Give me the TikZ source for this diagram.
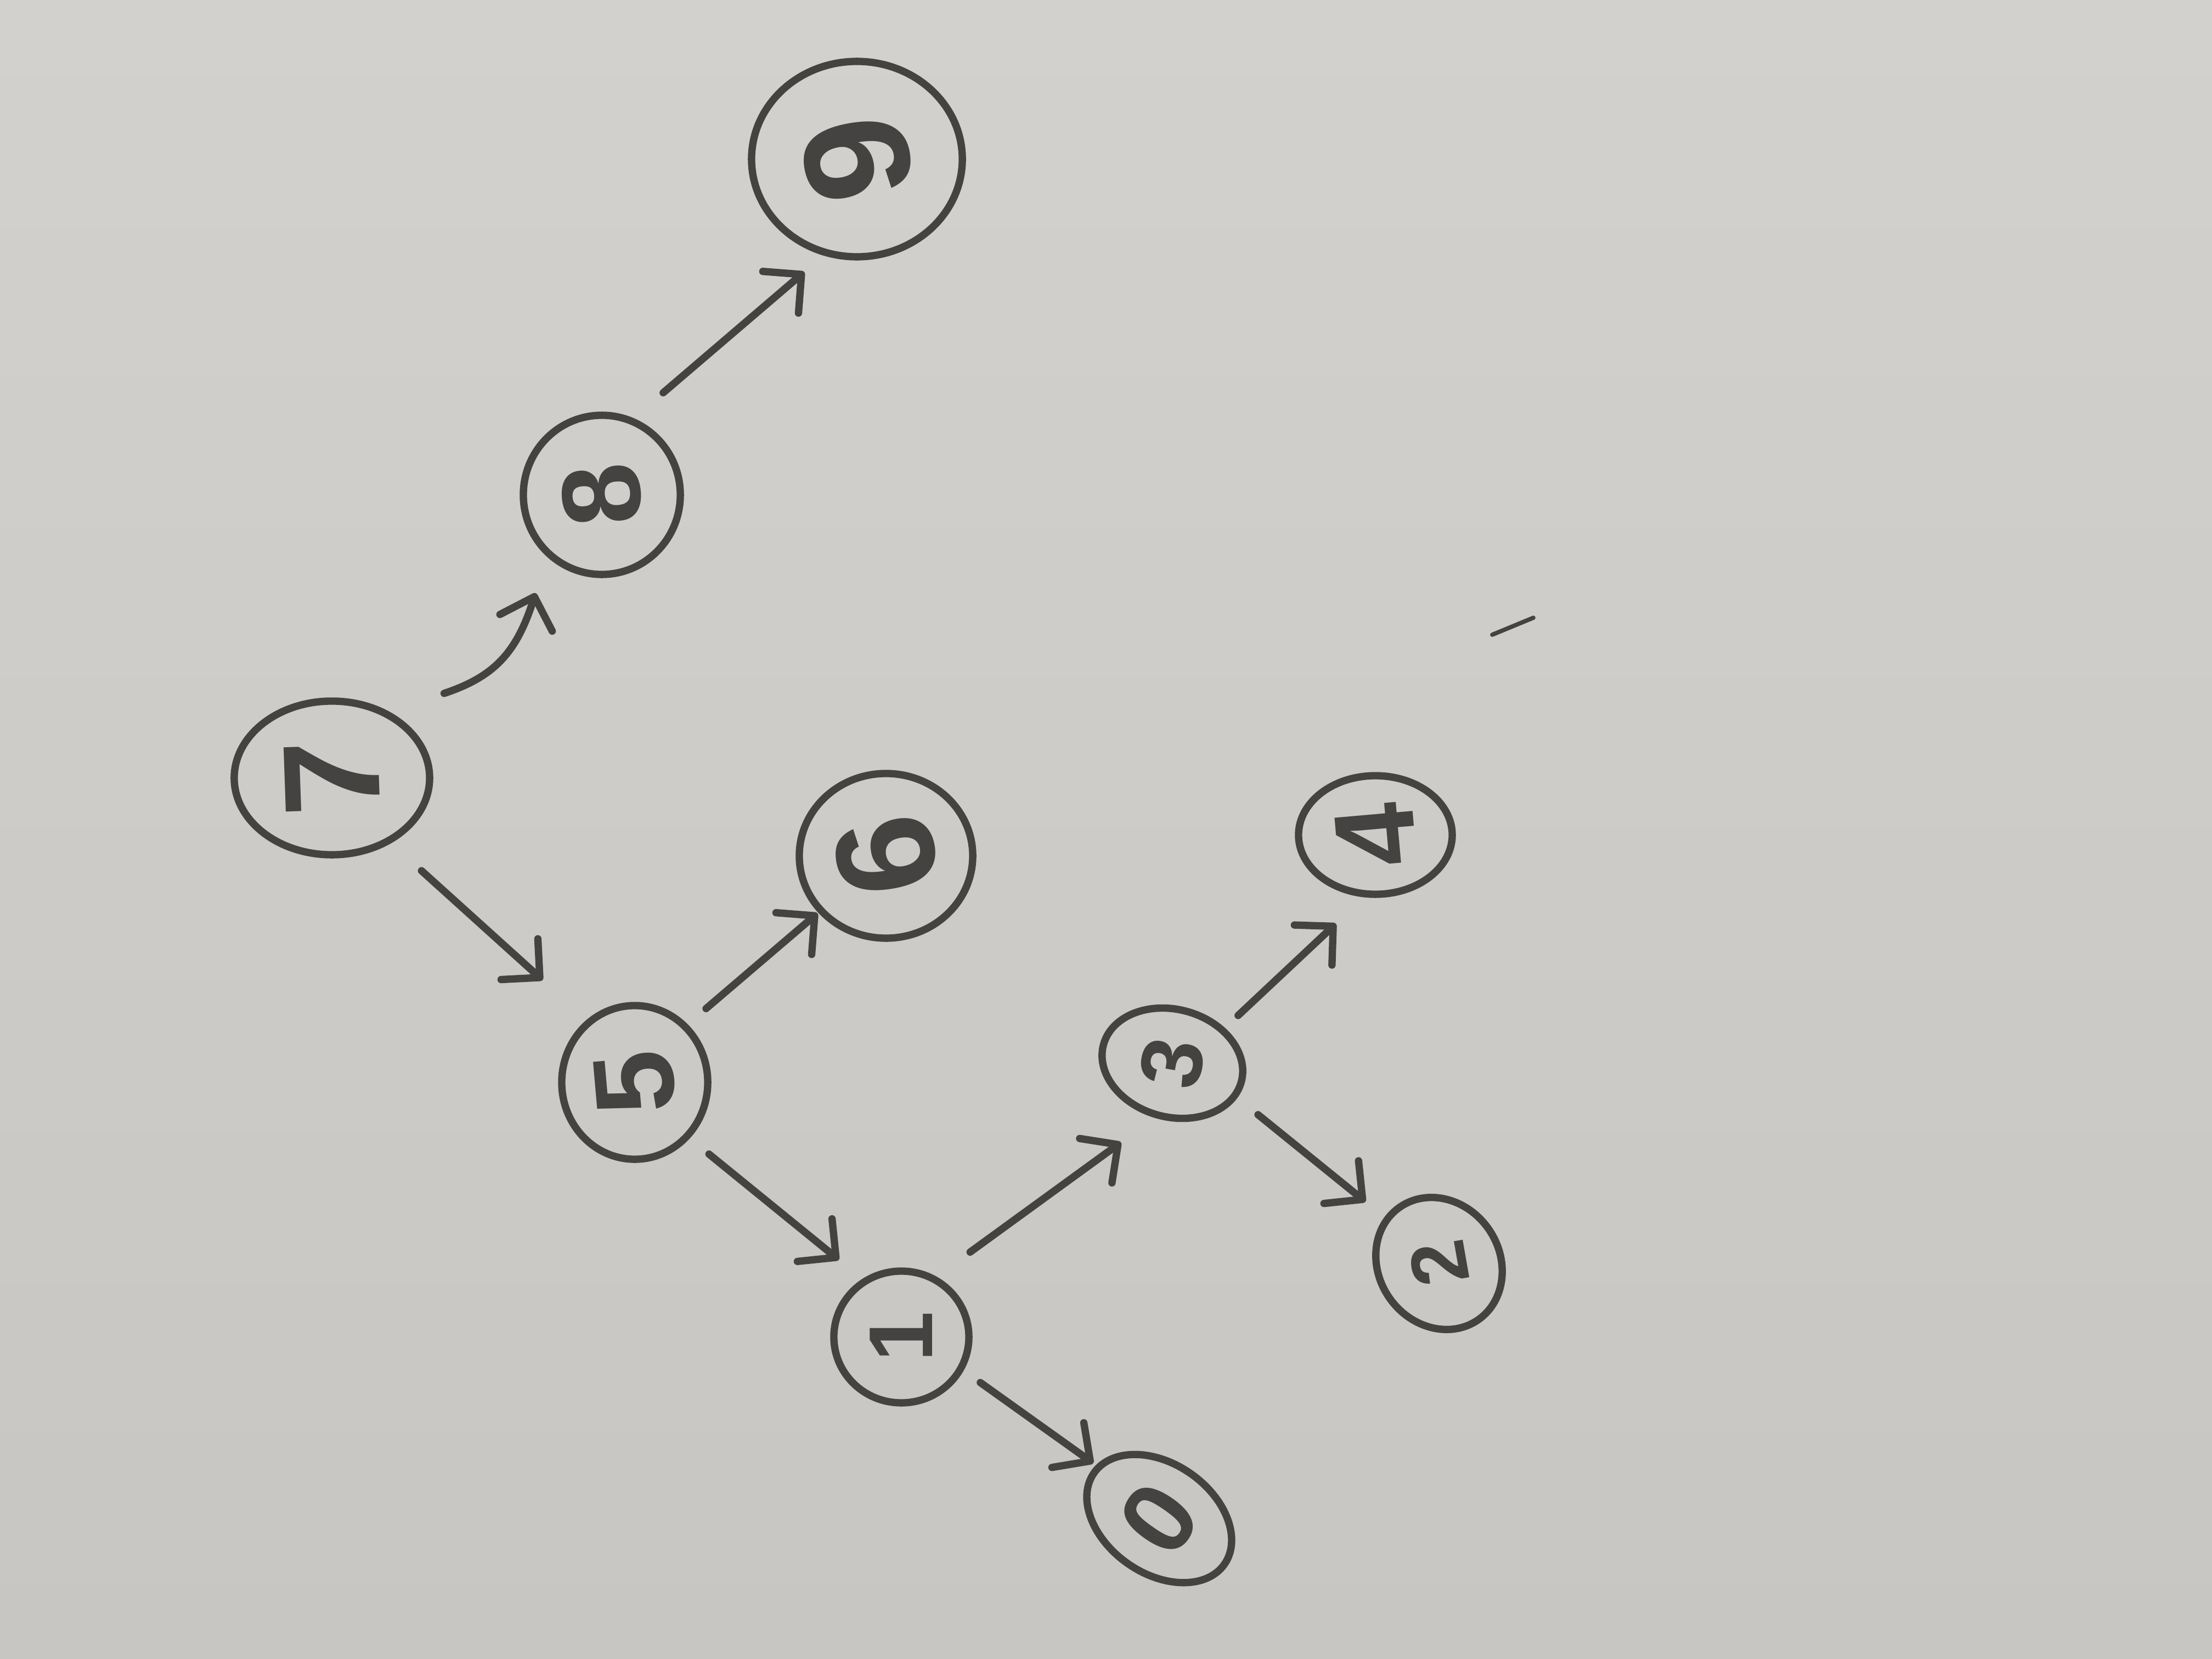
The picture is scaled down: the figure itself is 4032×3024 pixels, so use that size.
\documentclass[tikz,border=0pt]{standalone}
\usepackage{fontspec}
\setsansfont{Liberation Sans}
\usepackage{graphicx}
\usetikzlibrary{shapes.geometric,arrows.meta,calc}
\definecolor{pencil}{HTML}{444341}
\definecolor{paperA}{RGB}{210,209,205}
\definecolor{paperB}{RGB}{199,198,194}
% a digit set sideways: size (pt), turn (deg), glyph
\newcommand\sidedigit[3]{\rotatebox{#2}{\fontsize{#1}{#1}\selectfont #3}}
\begin{document}
\begin{tikzpicture}[x=0.01cm,y=-0.01cm,
  vertex/.style={ellipse,draw=pencil,line width=3.8pt,inner sep=0pt,
                 text=pencil,font=\sffamily\bfseries},
  link/.style={draw=pencil,line width=3.8pt,line cap=round,line join=round,
               -{Straight Barb[length=5mm,width=10mm,round]}},
  stray/.style={draw=pencil,line width=2.2pt,line cap=round}]

% sheet of paper
\shade[top color=paperA,bottom color=paperB] (0,0) rectangle (4032,3024);
\useasboundingbox (0,0) rectangle (4032,3024);

% circled keys
\node[vertex,minimum width=3.56cm,minimum height=2.80cm] (n7) at (605,1418) {\sidedigit{71}{92}{7}};
\node[vertex,minimum width=2.86cm,minimum height=2.90cm] (n8) at (1097,902)  {\sidedigit{58}{95}{8}};
\node[vertex,minimum width=3.84cm,minimum height=3.56cm] (n9) at (1562,290)  {\sidedigit{78}{100}{9}};
\node[vertex,minimum width=2.66cm,minimum height=2.80cm] (n5) at (1157,1973) {\sidedigit{59}{95}{5}};
\node[vertex,minimum width=3.16cm,minimum height=3.00cm] (n6) at (1615,1560) {\sidedigit{73}{100}{6}};
\node[vertex,minimum width=2.46cm,minimum height=2.40cm] (n1) at (1643,2437) {\sidedigit{47}{90}{1}};
\node[vertex,minimum width=2.60cm,minimum height=1.96cm,rotate=-15] (n3) at (2137,1938) {\sidedigit{45}{95}{3}};
\node[vertex,minimum width=2.80cm,minimum height=2.16cm] (n4) at (2507,1522) {\sidedigit{59}{95}{4}};
\node[vertex,minimum width=2.50cm,minimum height=2.20cm,rotate=-55] (n2) at (2623,2303) {\sidedigit{41}{155}{2}};
\node[vertex,minimum width=2.90cm,minimum height=2.00cm,rotate=-35] (n0) at (2113,2768) {\sidedigit{53}{90}{0}};

% edges of the tree
\draw[link] ($(n7)+(37:2.56cm)$) .. controls +(90,-30) and +(-35,110) .. ($(n8)+(236:2.16cm)$);
\draw[link] ($(n8)+(59:2.17cm)$)  -- ($(n9)+(245:2.27cm)$);
\draw[link] ($(n7)+(-46:2.35cm)$) -- ($(n5)+(132:2.51cm)$);
\draw[link] ($(n5)+(46:1.87cm)$)  -- ($(n6)+(220:1.63cm)$);
\draw[link] ($(n5)+(-44:1.88cm)$) -- ($(n1)+(129:1.81cm)$);
\draw[link] ($(n1)+(51:1.99cm)$)  -- ($(n3)+(237:1.72cm)$);
\draw[link] ($(n1)+(-30:1.66cm)$) -- ($(n0)+(140:1.57cm)$);
\draw[link] ($(n3)+(36:1.48cm)$)  -- ($(n4)+(246:1.77cm)$);
\draw[link] ($(n3)+(-31:1.82cm)$) -- ($(n2)+(140:1.75cm)$);

% loose pencil stroke on the sheet
\draw[stray] (2720,1157) -- (2795,1126);
\end{tikzpicture}
\end{document}
